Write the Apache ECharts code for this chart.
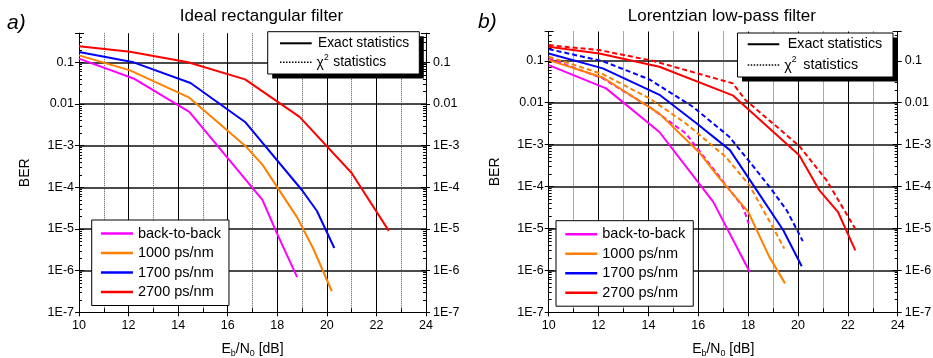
<!DOCTYPE html>
<html><head><meta charset="utf-8">
<script src="https://cdn.jsdelivr.net/npm/echarts@6/dist/echarts.min.js"></script>
<style>html,body{margin:0;padding:0;background:#fff}#c{width:933px;height:358px}</style>
</head><body><div id="c"></div>
<script>
// ---------- data ----------
const seriesNames = ['back-to-back', '1000 ps/nm', '1700 ps/nm', '2700 ps/nm'];
const seriesColors = ['#ff00ff', '#ff8000', '#0000ff', '#ff0000'];
const panelTitles = ['Ideal rectangular filter', 'Lorentzian low-pass filter'];
const panelTags = ['a)', 'b)'];
const statLabels = ['Exact statistics', 'statistics'];
const yTickExps = [-7, -6, -5, -4, -3, -2, -1];
const yTickLabels = ['1E-7', '1E-6', '1E-5', '1E-4', '1E-3', '0.01', '0.1'];
const xRange = [10, 24];
const yRange = [1e-7, 0.5];

// panel a) ideal rectangular filter (exact statistics)
const a_b2b   = [[10,0.123],[12.2,0.041],[14.45,0.0065],[17.4,5.0e-5],[18.0,7.5e-6],[18.8,7e-7]];
const a_1000  = [[10,0.147],[12.06,0.064],[14.45,0.0142],[16.7,1.0e-3],[17.4,3.5e-4],[18.8,1.9e-5],[19.45,3.4e-6],[20.2,3.2e-7]];
const a_1700  = [[10,0.177],[12.2,0.1],[14.5,0.032],[16.7,0.0037],[19.0,8.5e-5],[19.6,2.7e-5],[20.3,3.5e-6]];
const a_2700  = [[10,0.242],[12.06,0.18],[14.4,0.1],[16.7,0.039],[18.9,0.0049],[21.0,2.2e-4],[22.5,9e-6]];

// panel b) Lorentzian low-pass filter, exact statistics
const b_b2b   = [[10,0.079],[12.3,0.022],[14.44,2.0e-3],[16.6,4.3e-5],[18.07,9e-7]];
const b_1000  = [[10,0.104],[12.17,0.04],[14.44,5.5e-3],[16.07,6.2e-4],[16.74,1.9e-4],[18.0,2.5e-5],[18.85,2.1e-6],[19.48,4.9e-7]];
const b_1700  = [[10,0.15],[12.17,0.066],[14.47,0.0151],[15.94,3.2e-3],[17.27,7.4e-4],[18.08,1.4e-4],[19.41,9.1e-6],[20.15,1.26e-6]];
const b_2700  = [[10,0.216],[12.03,0.15],[14.44,0.072],[17.38,0.015],[20.05,5.6e-4],[20.86,8.1e-5],[21.6,2.5e-5],[22.3,3e-6]];
// panel b) chi-square statistics
const b_b2b_chi  = [[10,0.114],[12.17,0.038],[14.04,0.0079],[15.5,1.85e-3],[17.8,3.2e-5],[18.02,1.3e-5]];
const b_1000_chi = [[10,0.125],[12.17,0.048],[14.04,0.0127],[15.5,3.2e-3],[17.1,5.1e-4],[18.05,1.07e-4],[18.98,1.1e-5],[19.45,3.3e-6]];
const b_1700_chi = [[10,0.19],[12.17,0.098],[14.04,0.036],[15.78,8e-3],[17.24,1.55e-3],[18.0,4.3e-4],[18.85,1.0e-4],[19.55,2.7e-5],[20.0,8.3e-6],[20.19,5e-6]];
const b_2700_chi = [[10,0.237],[12.03,0.18],[14.17,0.1],[17.38,0.029],[17.9,0.0115],[20.05,9.3e-4],[21.15,1.4e-4],[22.29,1.0e-5]];

// ---------- layout ----------
const FONT = 'Liberation Sans, Arial, sans-serif';
const grids = [
  {left: 79, top: 33.2, width: 347, height: 279.1, containLabel: false, outerBoundsMode: 'none'},
  {left: 548.7, top: 31.5, width: 349, height: 280.8, containLabel: false, outerBoundsMode: 'none'}
];

function yLabel(v) {
  const e = Math.log10(v);
  const r = Math.round(e);
  if (Math.abs(e - r) > 1e-6) return '';
  const i = yTickExps.indexOf(r);
  return i >= 0 ? yTickLabels[i] : '';
}

const xAxes = [], yAxes = [];
grids.forEach((g, gi) => {
  xAxes.push({
    gridIndex: gi, type: 'value', position: 'bottom', min: xRange[0], max: xRange[1], interval: 2,
    axisLine: {lineStyle: {color: '#000', width: 1}},
    axisTick: {show: true, inside: false, length: 4, lineStyle: {color: '#000'}},
    minorTick: {show: false, splitNumber: 2},
    minorSplitLine: {show: true, lineStyle: {color: '#555', type: 'dotted', width: 1}},
    splitLine: {show: true, lineStyle: {color: '#000', width: 1}},
    axisLabel: {color: '#000', fontSize: 12.5, fontFamily: FONT, margin: 7},
    name: '{n|E}{s|b}{n|/N}{s|0}{n| [dB]}', nameLocation: 'middle', nameGap: 28,
    nameTextStyle: {color: '#000', rich: {
      n: {fontSize: 14, fontFamily: FONT, color: '#000', lineHeight: 18},
      s: {fontSize: 9, fontFamily: FONT, color: '#000', lineHeight: 10, verticalAlign: 'bottom'}
    }}
  });
  xAxes.push({
    gridIndex: gi, type: 'value', position: 'bottom', min: xRange[0], max: xRange[1], interval: 1,
    axisLine: {show: false}, axisLabel: {show: false}, splitLine: {show: false},
    axisTick: {show: true, inside: true, length: 4, lineStyle: {color: '#000'}}
  });
  const common = {gridIndex: gi, type: 'log', logBase: 10, min: yRange[0], max: yRange[1]};
  yAxes.push(Object.assign({}, common, {
    position: 'left',
    axisLine: {show: true, lineStyle: {color: '#000', width: 1}},
    axisTick: {show: true, inside: false, length: 4, lineStyle: {color: '#000'}},
    axisLabel: {color: '#000', fontSize: 12.5, fontFamily: FONT, margin: 5, formatter: yLabel},
    splitLine: {show: true, showMinLine: false, showMaxLine: false, lineStyle: {color: '#4a4a4a', width: 2}},
    name: 'BER', nameLocation: 'middle', nameGap: 47, nameRotate: 90,
    nameTextStyle: {color: '#000', fontSize: 14, fontFamily: FONT}
  }));
  yAxes.push(Object.assign({}, common, {
    position: 'left', axisLine: {show: false}, axisLabel: {show: false}, splitLine: {show: false},
    axisTick: {show: true, inside: true, length: 5, lineStyle: {color: '#000'}},
    minorTick: {show: true, splitNumber: 9, length: 3, lineStyle: {color: '#000'}}
  }));
  yAxes.push(Object.assign({}, common, {
    position: 'right',
    axisLine: {show: true, lineStyle: {color: '#000', width: 1}},
    axisTick: {show: true, inside: false, length: 4, lineStyle: {color: '#000'}},
    axisLabel: {color: '#000', fontSize: 12.5, fontFamily: FONT, margin: 7, formatter: yLabel},
    splitLine: {show: false}
  }));
  yAxes.push(Object.assign({}, common, {
    position: 'right', axisLine: {show: false}, axisLabel: {show: false}, splitLine: {show: false},
    axisTick: {show: true, inside: true, length: 5, lineStyle: {color: '#000'}},
    minorTick: {show: true, splitNumber: 9, length: 3, lineStyle: {color: '#000'}}
  }));
});

function mkSeries(name, data, color, gi, dashed) {
  return {
    type: 'line', name: name, data: data, xAxisIndex: 2 * gi, yAxisIndex: 4 * gi,
    symbol: 'none', showSymbol: false, silent: true, animation: false,
    lineStyle: {color: color, width: 2, type: dashed ? [5, 3] : 'solid'},
    itemStyle: {color: color}, z: dashed ? 3 : 4
  };
}
const series = [];
[a_b2b, a_1000, a_1700, a_2700].forEach((d, i) => series.push(mkSeries(seriesNames[i], d, seriesColors[i], 0, false)));
[b_b2b_chi, b_1000_chi, b_1700_chi, b_2700_chi].forEach((d, i) => series.push(mkSeries(seriesNames[i] + ' (χ²)', d, seriesColors[i], 1, true)));
[b_b2b, b_1000, b_1700, b_2700].forEach((d, i) => series.push(mkSeries(seriesNames[i], d, seriesColors[i], 1, false)));

function legendCfg(left, top) {
  return {
    data: seriesNames, left: left, top: top, orient: 'vertical', selectedMode: false,
    backgroundColor: '#fff', borderColor: '#000', borderWidth: 1, borderRadius: 0,
    padding: [6, 8, 6, 8], itemGap: 4.5, itemWidth: 32, itemHeight: 14,
    itemStyle: {opacity: 0, borderWidth: 0},
    lineStyle: {width: 2.5},
    textStyle: {fontSize: 14.5, fontFamily: FONT, color: '#000'}
  };
}

function statBox(b) {
  const els = [
    {type: 'rect', shape: {x: b.x + 4.5, y: b.y + 4.5, width: b.w, height: b.h}, style: {fill: '#000'}, z: 10},
    {type: 'rect', shape: {x: b.x, y: b.y, width: b.w, height: b.h}, style: {fill: '#fff', stroke: '#000', lineWidth: 1}, z: 11},
    {type: 'line', shape: {x1: b.l0, y1: b.r0, x2: b.l1, y2: b.r0}, style: {stroke: '#000', lineWidth: 2}, z: 12},
    {type: 'line', shape: {x1: b.l0, y1: b.r1, x2: b.l1, y2: b.r1}, style: {stroke: '#000', lineWidth: 1.5, lineDash: [1.5, 1.5]}, z: 12},
    {type: 'text', x: b.tx, y: b.r0, style: {text: statLabels[0], fontSize: b.fs, fontFamily: FONT, fill: '#000', verticalAlign: 'middle'}, z: 12},
    {type: 'text', x: b.cx, y: b.r1 + 1, style: {text: 'χ', fontSize: b.fs, fontFamily: FONT, fill: '#000', verticalAlign: 'middle'}, z: 12},
    {type: 'text', x: b.cx + 7.5, y: b.r1 - 5, style: {text: '2', fontSize: 8.5, fontFamily: FONT, fill: '#000', verticalAlign: 'middle'}, z: 12},
    {type: 'text', x: b.sx, y: b.r1, style: {text: statLabels[1], fontSize: b.fs, fontFamily: FONT, fill: '#000', verticalAlign: 'middle'}, z: 12}
  ];
  return els;
}

const graphic = [
  {type: 'text', x: 261.5, y: 16, style: {text: panelTitles[0], fontSize: 17, fontFamily: FONT, fill: '#000', align: 'center', verticalAlign: 'middle'}},
  {type: 'text', x: 721.8, y: 16.5, style: {text: panelTitles[1], fontSize: 17, fontFamily: FONT, fill: '#000', align: 'center', verticalAlign: 'middle'}},
  {type: 'text', x: 7, y: 23, style: {text: panelTags[0], fontSize: 21, fontStyle: 'italic', fontFamily: FONT, fill: '#000', verticalAlign: 'middle'}},
  {type: 'text', x: 478, y: 22.5, style: {text: panelTags[1], fontSize: 21, fontStyle: 'italic', fontFamily: FONT, fill: '#000', verticalAlign: 'middle'}}
].concat(
  statBox({x: 267.7, y: 31.7, w: 151.6, h: 42.3, l0: 280, l1: 311.7, r0: 43.3, r1: 62.3, tx: 318, cx: 316.5, sx: 333.3, fs: 13.8}),
  statBox({x: 737.5, y: 33, w: 155.5, h: 44, l0: 747.7, l1: 779.3, r0: 44.3, r1: 65, tx: 787.7, cx: 784.3, sx: 803.3, fs: 14.3})
);

const chart = echarts.init(document.getElementById('c'), null, {renderer: 'canvas'});
chart.setOption({
  animation: false,
  backgroundColor: '#fff',
  grid: grids,
  xAxis: xAxes,
  yAxis: yAxes,
  legend: [legendCfg(91.7, 220), legendCfg(556, 220.7)],
  series: series,
  graphic: graphic
});
</script></body></html>
